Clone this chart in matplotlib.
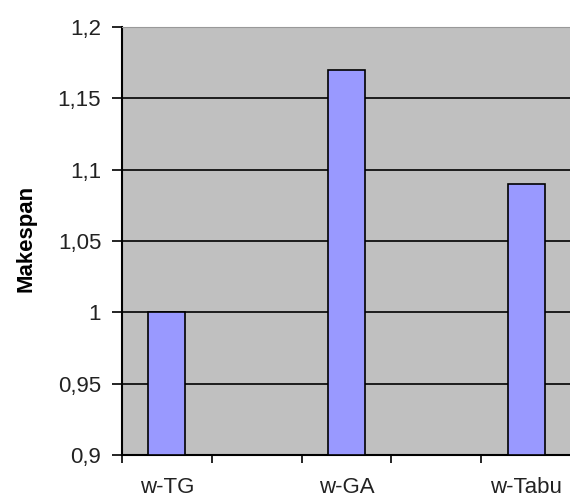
import matplotlib
matplotlib.use('Agg')
import matplotlib.pyplot as plt
import numpy as np

# data
categories = ['w-TG', '', 'w-GA', '', 'w-Tabu']
makespan = [1.0, None, 1.17, None, 1.09]
yticks = [0.9, 0.95, 1.0, 1.05, 1.1, 1.15, 1.2]
ytick_labels = ['0,9', '0,95', '1', '1,05', '1,1', '1,15', '1,2']

plt.rcParams['font.family'] = ['Liberation Sans', 'DejaVu Sans']

fig = plt.figure(figsize=(5.7, 5.0), dpi=100)
ax = fig.add_axes([0.214, 0.09, 0.788, 0.856])
ax.set_facecolor('#C0C0C0')

x = np.arange(len(categories))
for xi, v in zip(x, makespan):
	if v is not None:
		ax.bar(xi, v - 0.9, bottom=0.9, width=0.41, color='#9999FF', edgecolor='black', linewidth=1.2, zorder=3)

ax.set_xlim(-0.5, len(categories) - 0.5)
ax.set_ylim(0.9, 1.2)

ax.set_yticks(yticks)
ax.set_yticklabels(ytick_labels, fontsize=16, color='#222222')
for y in yticks[1:]:
	ax.axhline(y, color='black', linewidth=1.2, zorder=2)

# category boundaries as major ticks, labels at centres
ax.set_xticks(np.arange(-0.5, len(categories), 1.0))
ax.set_xticklabels([])
ax.set_xticks(x, minor=True)
ax.set_xticklabels(categories, minor=True, fontsize=16, color='#222222')
ax.tick_params(axis='x', which='minor', length=0, pad=16)
ax.tick_params(axis='x', which='major', length=6, width=1.2, direction='out')
ax.tick_params(axis='y', length=7, width=1.2, pad=8)

ax.spines['left'].set_linewidth(1.5)
ax.spines['bottom'].set_linewidth(1.5)
ax.spines['top'].set_color('#999999')
ax.spines['right'].set_visible(False)

ax.set_ylabel('Makespan', fontsize=16, fontweight='bold')
ax.yaxis.set_label_coords(-0.19, 0.505)

fig.savefig('out.png', dpi=100)
